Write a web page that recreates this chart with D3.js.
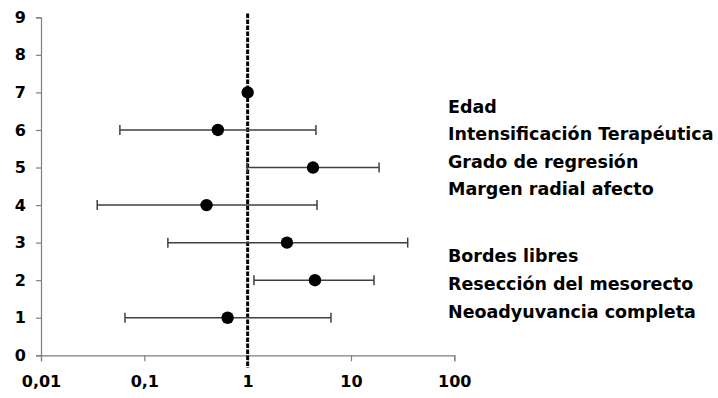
<!DOCTYPE html>
<html>
<head>
<meta charset="utf-8">
<script src="https://cdn.jsdelivr.net/npm/d3@7"></script>
<style>
  html, body { margin: 0; padding: 0; background: #fff; }
  svg { display: block; }
  .lbl { font-family: "DejaVu Sans", sans-serif; font-weight: bold; fill: #000; }
</style>
</head>
<body>
<svg id="chart" width="718" height="398"></svg>
<script>
// Row index on the y axis for each estimate
const rows      = [7, 6, 5, 4, 3, 2, 1];
// Odds ratio point estimates and 95% confidence limits
const estimate  = [1.00, 0.515, 4.29, 0.40, 2.40, 4.48, 0.64];
const lower     = [1.00, 0.058, 0.99, 0.035, 0.169, 1.15, 0.065];
const upper     = [1.00, 4.58, 18.7, 4.69, 35.4, 16.7, 6.4];

// Variable names listed beside the plot, top to bottom
const variables = [
  "Edad",
  "Intensificación Terapéutica",
  "Grado de regresión",
  "Margen radial afecto",
  "Bordes libres",
  "Resección del mesorecto",
  "Neoadyuvancia completa"
];

const xTicks = [0.01, 0.1, 1, 10, 100];
const xTickLabels = ["0,01", "0,1", "1", "10", "100"];
const yTicks = [0, 1, 2, 3, 4, 5, 6, 7, 8, 9];

const svg = d3.select("#chart");

const x = d3.scaleLog().domain([0.01, 100]).range([41, 454.3]);
const y = d3.scaleLinear().domain([0, 9]).range([355.3, 17.3]);

const axisColor = "#7f7f7f";

// Y axis
const yAxis = svg.append("g")
  .attr("transform", `translate(${x(0.01)},0)`)
  .call(d3.axisLeft(y).tickValues(yTicks).tickSize(5).tickPadding(10).tickFormat(d3.format("d")));
yAxis.select(".domain").attr("stroke", axisColor).attr("stroke-width", 1.2);
yAxis.selectAll(".tick line").attr("stroke", axisColor).attr("stroke-width", 1.2);
yAxis.selectAll(".tick text").attr("class", "lbl").attr("font-size", 16);

// X axis
const xAxis = svg.append("g")
  .attr("transform", `translate(0,${y(0)})`)
  .call(d3.axisBottom(x).tickValues(xTicks).tickSize(6).tickPadding(14)
        .tickFormat((d, i) => xTickLabels[i]));
xAxis.select(".domain").attr("stroke", axisColor).attr("stroke-width", 1.2);
xAxis.selectAll(".tick line").attr("stroke", axisColor).attr("stroke-width", 1.2);
xAxis.selectAll(".tick text").attr("class", "lbl").attr("font-size", 16);

// Reference line at OR = 1
svg.append("line")
  .attr("x1", x(1)).attr("x2", x(1))
  .attr("y1", y(9.1)).attr("y2", y(-0.34))
  .attr("stroke", "#000").attr("stroke-width", 3)
  .attr("stroke-dasharray", "4.5,1.5");

const data = rows.map((r, i) => ({ row: r, est: estimate[i], lo: lower[i], hi: upper[i] }));
const barColor = "#404040";
const capH = 5;

const bars = svg.append("g").selectAll("g").data(data.filter(d => d.hi > d.lo)).join("g");
bars.append("line")
  .attr("x1", d => x(d.lo)).attr("x2", d => x(d.hi))
  .attr("y1", d => y(d.row)).attr("y2", d => y(d.row))
  .attr("stroke", barColor).attr("stroke-width", 1.5);
bars.append("line")
  .attr("x1", d => x(d.lo)).attr("x2", d => x(d.lo))
  .attr("y1", d => y(d.row) - capH).attr("y2", d => y(d.row) + capH)
  .attr("stroke", barColor).attr("stroke-width", 1.5);
bars.append("line")
  .attr("x1", d => x(d.hi)).attr("x2", d => x(d.hi))
  .attr("y1", d => y(d.row) - capH).attr("y2", d => y(d.row) + capH)
  .attr("stroke", barColor).attr("stroke-width", 1.5);

svg.append("g").selectAll("circle").data(data).join("circle")
  .attr("cx", d => x(d.est)).attr("cy", d => y(d.row)).attr("r", 6.2)
  .attr("fill", "#000");

// Text block of variable names
const labelBaselines = [112.7, 140, 168, 195, 261.7, 290, 318];
svg.append("g").selectAll("text").data(variables).join("text")
  .attr("class", "lbl")
  .attr("x", 448)
  .attr("y", (d, i) => labelBaselines[i])
  .attr("font-size", 17.5)
  .text(d => d);
</script>
</body>
</html>
